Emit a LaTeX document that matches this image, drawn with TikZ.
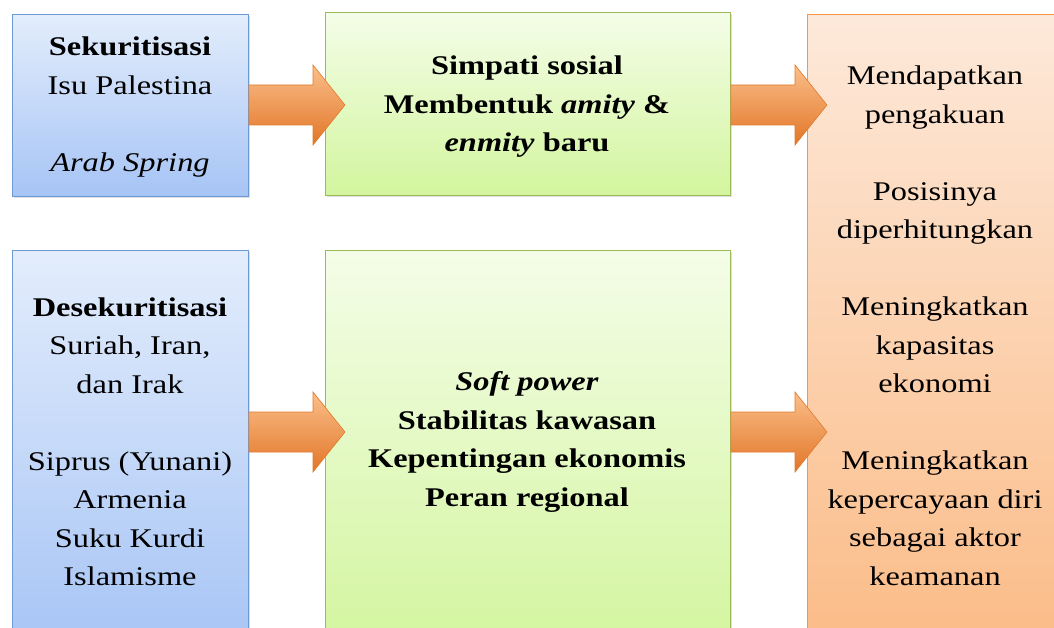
\documentclass[tikz,border=0pt]{standalone}
\usepackage{fontspec}
\setmainfont[FakeStretch=1.2]{Liberation Serif}
\usetikzlibrary{shadows,calc}
\definecolor{boxblue}{HTML}{6E9AD4}
\definecolor{bluetop}{HTML}{E3EDFC}
\definecolor{bluebot}{HTML}{A6C4F5}
\definecolor{boxgreen}{HTML}{9BBB59}
\definecolor{greentop}{HTML}{F4FDE8}
\definecolor{greenbot}{HTML}{D3F59E}
\definecolor{boxorange}{HTML}{F79646}
\definecolor{orangetop}{HTML}{FDE9DA}
\definecolor{orangebot}{HTML}{FBBB86}
\definecolor{arrline}{HTML}{E07B2E}
\definecolor{arrtop}{HTML}{FBBF8A}
\definecolor{arrmid}{HTML}{EE8A3A}
\definecolor{arrbot}{HTML}{E27628}
\tikzset{
  box/.style={draw, line width=0.8pt, rectangle, anchor=north west, inner sep=0pt,
    drop shadow={shadow xshift=2pt,shadow yshift=-2pt,opacity=0.25}},
  bluebox/.style={box, draw=boxblue, top color=bluetop, bottom color=bluebot},
  greenbox/.style={box, draw=boxgreen, top color=greentop, bottom color=greenbot},
  orangebox/.style={box, draw=boxorange, top color=orangetop, bottom color=orangebot},
  txt/.style={align=center, inner sep=0pt, font=\fontsize{27}{38.5}\selectfont},
  arr/.style={draw=arrline, line width=0.6pt, top color=arrtop, middle color=arrmid, bottom color=arrbot}
}
\newcommand\blockarr[2]{%
  \path[arr] ($(#1)+(0,-20)$) -- ($(#2)+(-32,-20)$) -- ($(#2)+(-32,-40)$) -- (#2)
    -- ($(#2)+(-32,40)$) -- ($(#2)+(-32,20)$) -- ($(#1)+(0,20)$) -- cycle;}
\begin{document}
\begin{tikzpicture}[x=1pt,y=-1pt]
\useasboundingbox (0,0) rectangle (1054,628);
\clip (0,0) rectangle (1054,628);
\fill[white] (0,0) rectangle (1054,628);
% boxes
\node[bluebox, minimum width=236pt, minimum height=182pt] (A) at (12,14) {};
\node[bluebox, minimum width=236pt, minimum height=400pt] (B) at (12,250) {};
\node[greenbox, minimum width=405pt, minimum height=183pt] (C) at (325,12) {};
\node[greenbox, minimum width=405pt, minimum height=400pt] (D) at (325,250) {};
\node[orangebox, minimum width=280pt, minimum height=640pt] (E) at (807,14) {};
% texts
\node[txt] (tA) at (130,107) {\textbf{Sekuritisasi}\\Isu Palestina\\[38.5pt]\textit{Arab Spring}};
\node[txt, font=\fontsize{27}{38.5}\selectfont\bfseries] (tC) at (527,107) {Simpati sosial\\Membentuk \textit{amity} \&\\\textit{enmity} baru};
\node[txt] (tB) at (130,442) {\textbf{Desekuritisasi}\\Suriah, Iran,\\dan Irak\\[38.5pt]Siprus (Yunani)\\Armenia\\Suku Kurdi\\Islamisme};
\node[txt, font=\fontsize{27}{38.5}\selectfont\bfseries] (tD) at (527,442) {\textit{Soft power}\\Stabilitas kawasan\\Kepentingan ekonomis\\Peran regional};
\node[txt] (tE) at (935,326) {Mendapatkan\\pengakuan\\[38.5pt]Posisinya\\diperhitungkan\\[38.5pt]Meningkatkan\\kapasitas\\ekonomi\\[38.5pt]Meningkatkan\\kepercayaan diri\\sebagai aktor\\keamanan};
% arrows
\coordinate (ytop) at (0,105);
\coordinate (ybot) at (0,432);
\coordinate (a1s) at (A.east |- ytop);
\coordinate (a1e) at ($(C.west |- ytop)+(20,0)$);
\coordinate (a2s) at (C.east |- ytop);
\coordinate (a2e) at ($(E.west |- ytop)+(20,0)$);
\coordinate (a3s) at (B.east |- ybot);
\coordinate (a3e) at ($(D.west |- ybot)+(20,0)$);
\coordinate (a4s) at (D.east |- ybot);
\coordinate (a4e) at ($(E.west |- ybot)+(20,0)$);
\blockarr{a1s}{a1e}
\blockarr{a2s}{a2e}
\blockarr{a3s}{a3e}
\blockarr{a4s}{a4e}
\end{tikzpicture}
\end{document}
